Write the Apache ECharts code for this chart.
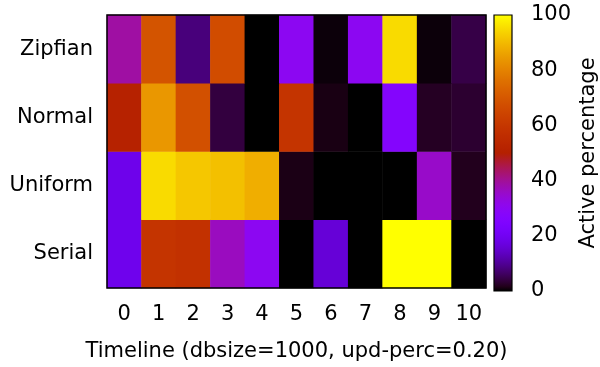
<!DOCTYPE html>
<html><head><meta charset="utf-8">
<script src="https://cdn.jsdelivr.net/npm/echarts@6/dist/echarts.min.js"></script>
<style>html,body{margin:0;padding:0;background:#fff}#c{width:600px;height:367px}</style>
</head><body><div id="c"></div>
<script>
var timeline = ['0','1','2','3','4','5','6','7','8','9','10'];
var workloads = ['Serial','Uniform','Normal','Zipfian'];
var zipfian = [39, 69, 8, 67, 0, 30, 0.6, 30, 95, 0.6, 4.5];
var normal  = [51, 84, 68, 4, 0, 59, 1.2, 0, 27, 2.2, 3];
var uniform = [18.6, 95, 92, 91, 88, 1.3, 0, 0, 0, 35.5, 1.8];
var serial  = [19, 59, 58, 36.5, 30, 0, 16, 0, 100, 100, 0];
var colorbarTicks = [0, 20, 40, 60, 80, 100];

var rows = [serial, uniform, normal, zipfian];
var data = [];
rows.forEach(function(r, yi){ r.forEach(function(v, xi){ data.push([xi, yi, v]); }); });

function cmap(t){
  var r = Math.sqrt(t), g = Math.pow(t,3), b = Math.max(0, Math.sin(2*Math.PI*t));
  function h(v){ var s = Math.round(Math.min(1,Math.max(0,v))*255).toString(16); return s.length<2?'0'+s:s; }
  return '#'+h(r)+h(g)+h(b);
}
var N = 64, colors = [], stops = [];
for (var i=0;i<=N;i++){ colors.push(cmap(i/N)); stops.push({offset:i/N, color:cmap(i/N)}); }

var font = 'DejaVu Sans';
var chart = echarts.init(document.getElementById('c'));
chart.setOption({
  animation:false,
  textStyle:{fontFamily:font},
  grid:[
    {left:107, top:15, width:379, height:275, show:true, borderColor:'#000', borderWidth:1.5, backgroundColor:'transparent', z:5},
    {left:494, top:15, width:20, height:276, show:true, borderColor:'#000', borderWidth:1.2, backgroundColor:'transparent', z:5}
  ],
  xAxis:[
    {type:'category', data:timeline, gridIndex:0, axisLine:{show:false}, axisTick:{show:false}, splitLine:{show:false},
     axisLabel:{interval:0, fontSize:21, color:'#000', margin:16, fontFamily:font},
     name:'Timeline (dbsize=1000, upd-perc=0.20)', nameLocation:'middle', nameGap:53,
     nameTextStyle:{fontSize:21, color:'#000', fontFamily:font}},
    {type:'category', data:[''], gridIndex:1, show:false}
  ],
  yAxis:[
    {type:'category', data:workloads, gridIndex:0, axisLine:{show:false}, axisTick:{show:false}, splitLine:{show:false},
     axisLabel:{interval:0, fontSize:21, color:'#000', margin:14, fontFamily:font}},
    {type:'value', gridIndex:1, min:0, max:100, interval:20, position:'right',
     axisLine:{show:false}, axisTick:{show:false}, splitLine:{show:false},
     axisLabel:{fontSize:21, color:'#000', margin:19, fontFamily:font, padding:[4,0,0,0], formatter:function(v){return colorbarTicks.indexOf(v)>=0?String(v):'';}},
     name:'Active percentage', nameLocation:'middle', nameRotate:90, nameGap:66,
     nameTextStyle:{fontSize:21, color:'#000', fontFamily:font}}
  ],
  visualMap:{show:false, min:0, max:100, seriesIndex:0, inRange:{color:colors}},
  series:[
    {type:'heatmap', xAxisIndex:0, yAxisIndex:0, data:data, itemStyle:{borderWidth:0}},
    {type:'bar', xAxisIndex:1, yAxisIndex:1, data:[100], barWidth:'100%',
     itemStyle:{color:new echarts.graphic.LinearGradient(0,1,0,0,stops)}}
  ]
});
</script></body></html>
